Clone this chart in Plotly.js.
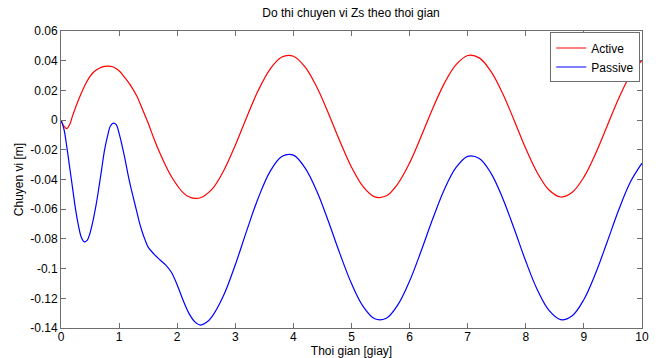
<!DOCTYPE html>
<html>
<head>
<meta charset="utf-8">
<script src="https://cdn.plot.ly/plotly-3.0.1.min.js"></script>
<style>html,body{margin:0;padding:0;background:#fff;}#chart{width:659px;height:358px;}</style>
</head>
<body>
<div id="chart"></div>
<script>
// Time (s) and displacement (m)
const activeT = [0,0.05,0.1,0.15,0.2,0.3,0.4,0.5,0.6,0.7,0.8,0.9,1.0,1.1,1.2,1.3,1.4,1.5,1.6,1.7,1.8,1.9,2.0,2.1,2.2,2.3,2.4,2.6,2.8,3.0,3.2,3.4,3.6,3.8,4.0,4.2,4.4,4.6,4.8,5.0,5.2,5.4,5.6,5.8,6.0,6.2,6.4,6.6,6.8,7.0,7.2,7.4,7.6,7.8,8.0,8.2,8.4,8.6,8.8,9.0,9.2,9.4,9.6,9.8,10.0];
const activeZ = [0,-0.004,-0.0057,-0.003,0.003,0.0135,0.0225,0.0295,0.0335,0.0357,0.0364,0.0358,0.0332,0.0285,0.0232,0.0165,0.0075,-0.002,-0.0125,-0.022,-0.0305,-0.038,-0.044,-0.0488,-0.0516,-0.0527,-0.0523,-0.0465,-0.0341,-0.0169,0.0023,0.0204,0.0344,0.0425,0.0430,0.0358,0.0224,0.0048,-0.0142,-0.0317,-0.0448,-0.0517,-0.0510,-0.0427,-0.0288,-0.0109,0.008,0.0249,0.0373,0.0435,0.0419,0.0328,0.0181,-0.0002,-0.0192,-0.0356,-0.0471,-0.0518,-0.0486,-0.0384,-0.0227,-0.004,0.0147,0.0304,0.0403];

const passiveT = [0,0.05,0.1,0.15,0.2,0.25,0.3,0.35,0.4,0.45,0.5,0.55,0.6,0.65,0.7,0.75,0.8,0.85,0.9,0.95,1.0,1.05,1.1,1.15,1.2,1.25,1.3,1.35,1.4,1.45,1.5,1.6,1.7,1.8,1.9,2.0,2.1,2.2,2.3,2.4,2.5,2.6,2.8,3.0,3.2,3.4,3.6,3.8,4.0,4.2,4.4,4.6,4.8,5.0,5.2,5.4,5.6,5.8,6.0,6.2,6.4,6.6,6.8,7.0,7.2,7.4,7.6,7.8,8.0,8.2,8.4,8.6,8.8,9.0,9.2,9.4,9.6,9.8,10.0];
const passiveZ = [0,-0.006,-0.018,-0.032,-0.046,-0.06,-0.071,-0.079,-0.082,-0.081,-0.076,-0.068,-0.058,-0.046,-0.033,-0.02,-0.011,-0.004,-0.002,-0.003,-0.009,-0.017,-0.026,-0.036,-0.045,-0.053,-0.061,-0.069,-0.0755,-0.081,-0.0855,-0.0902,-0.094,-0.0975,-0.1025,-0.111,-0.1212,-0.13,-0.1357,-0.138,-0.1363,-0.1323,-0.118,-0.0974,-0.0741,-0.0519,-0.0345,-0.0245,-0.0236,-0.0322,-0.0476,-0.0679,-0.0899,-0.1101,-0.1255,-0.1338,-0.1334,-0.1243,-0.1084,-0.088,-0.0663,-0.0465,-0.0319,-0.0244,-0.0258,-0.0357,-0.0524,-0.0732,-0.0951,-0.1144,-0.1282,-0.1344,-0.1317,-0.1208,-0.1033,-0.0821,-0.0604,-0.0417,-0.029];

const xTickVals = [0,1,2,3,4,5,6,7,8,9,10];
const xTickText = ["0","1","2","3","4","5","6","7","8","9","10"];
const yTickVals = [0.06,0.04,0.02,0,-0.02,-0.04,-0.06,-0.08,-0.1,-0.12,-0.14];
const yTickText = ["0.06","0.04","0.02","0","-0.02","-0.04","-0.06","-0.08","-0.1","-0.12","-0.14"];

const font = {family: "Liberation Sans, Arial, sans-serif", size: 12, color: "#000"};
const axisCommon = {
  showline: true, linecolor: "#6e6e6e", linewidth: 1, mirror: "ticks",
  ticks: "inside", ticklen: 5, tickcolor: "#6e6e6e", tickwidth: 1,
  showgrid: false, zeroline: false, tickmode: "array", automargin: false,
  tickfont: font
};

const data = [
  {x: activeT, y: activeZ, type: "scatter", mode: "lines", name: "Active",
   line: {color: "#ff0000", width: 1.2, shape: "spline", smoothing: 1}},
  {x: passiveT, y: passiveZ, type: "scatter", mode: "lines", name: "Passive",
   line: {color: "#0000ff", width: 1.2, shape: "spline", smoothing: 1}}
];

const layout = {
  width: 659, height: 358,
  margin: {l: 61, r: 17, t: 31, b: 30, pad: 0},
  paper_bgcolor: "#fff", plot_bgcolor: "#fff",
  font: font,
  title: {text: "Do thi chuyen vi Zs theo thoi gian", font: font, x: 0.5327, xanchor: "center", y: 0.965, yanchor: "middle"},
  xaxis: Object.assign({}, axisCommon, {
    range: [0, 10], tickvals: xTickVals, ticktext: xTickText,
    ticklabelstandoff: -2,
    title: {text: "Thoi gian [giay]", font: font, standoff: 1}
  }),
  yaxis: Object.assign({}, axisCommon, {
    range: [-0.14, 0.06], tickvals: yTickVals, ticktext: yTickText,
    title: {text: "Chuyen vi [m]", font: font, standoff: 4}
  }),
  showlegend: true,
  legend: {x: 0.997, xanchor: "right", y: 0.995, yanchor: "top",
    bgcolor: "#fff", bordercolor: "#6e6e6e", borderwidth: 1,
    font: font, itemwidth: 30, tracegroupgap: 0}
};

Plotly.newPlot("chart", data, layout, {displayModeBar: false, staticPlot: true});
</script>
</body>
</html>
